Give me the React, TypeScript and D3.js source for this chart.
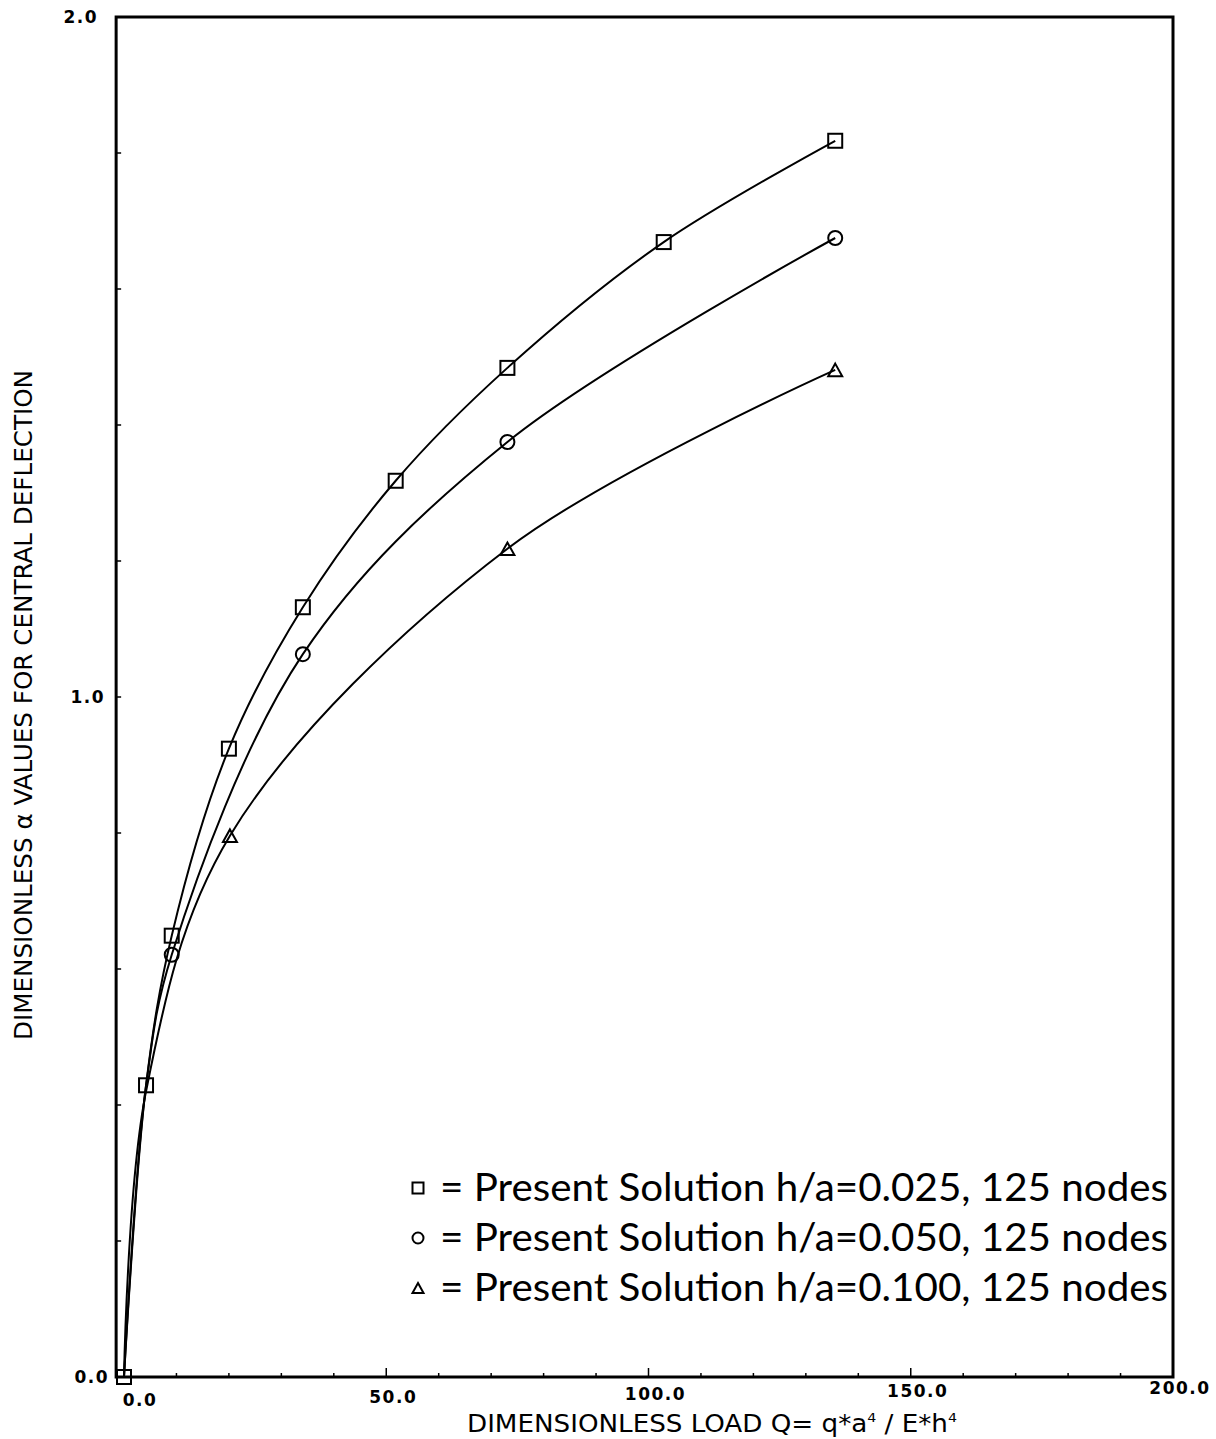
import { useEffect, useRef } from 'react';
import * as d3 from 'd3';

// Load values Q = q*a^4 / E*h^4 at which the solutions were computed
const Q_SQUARE = [0, 4.2, 9.1, 20.0, 34.1, 51.8, 73.1, 102.9, 135.6];
const A_SQUARE = [0, 0.429, 0.649, 0.924, 1.132, 1.318, 1.484, 1.669, 1.818];
const SHOW_SQUARE = [true, true, true, true, true, true, true, true, true];

const Q_CIRCLE = [0, 4.2, 9.1, 34.1, 73.1, 135.6];
const A_CIRCLE = [0, 0.428, 0.621, 1.063, 1.375, 1.675];
const SHOW_CIRCLE = [false, false, true, true, true, true];

const Q_TRIANGLE = [0, 4.2, 20.2, 73.1, 135.6];
const A_TRIANGLE = [0, 0.42, 0.796, 1.218, 1.481];
const SHOW_TRIANGLE = [false, false, true, true, true];

const LEGEND_LABELS = [
  '= Present Solution h/a=0.025, 125 nodes',
  '= Present Solution h/a=0.050, 125 nodes',
  '= Present Solution h/a=0.100, 125 nodes',
];

const X_TICKS = [0, 50, 100, 150, 200];
const Y_TICKS = [0, 1, 2];

const W = 1216;
const H = 1439;
const TICK_FONT = '"DejaVu Sans", sans-serif';
const LABEL_FONT = '"DejaVu Sans Condensed", "DejaVu Sans", sans-serif';
const LEGEND_FONT = 'Lato, "Noto Sans", sans-serif';

export default function App() {
  const svgRef = useRef<SVGSVGElement>(null);

  useEffect(() => {
    if (!svgRef.current) return;
    const svg = d3.select(svgRef.current);
    svg.selectAll('*').remove();

    const x = d3.scaleLinear().domain([0, 200]).range([124, 1173]);
    const y = d3.scaleLinear().domain([0, 2]).range([1377, 17]);
    const frameLeft = x(-1.5);

    // frame
    svg
      .append('rect')
      .attr('x', frameLeft)
      .attr('y', y(2))
      .attr('width', x(200) - frameLeft)
      .attr('height', y(0) - y(2))
      .attr('fill', 'none')
      .attr('stroke', '#000')
      .attr('stroke-width', 3);

    // x ticks: minor every 10, major every 50
    d3.range(10, 200, 10).forEach(v => {
      const major = v % 50 === 0;
      svg
        .append('line')
        .attr('x1', x(v))
        .attr('x2', x(v))
        .attr('y1', y(0))
        .attr('y2', y(0) - (major ? 9 : 4))
        .attr('stroke', '#000')
        .attr('stroke-width', 1.5);
    });

    // y ticks every 0.2
    d3.range(0.2, 2, 0.2).forEach(v => {
      svg
        .append('line')
        .attr('x1', frameLeft)
        .attr('x2', frameLeft + 5)
        .attr('y1', y(v))
        .attr('y2', y(v))
        .attr('stroke', '#000')
        .attr('stroke-width', 1.5);
    });

    // tick labels
    svg
      .selectAll('.xl')
      .data(X_TICKS)
      .enter()
      .append('text')
      .attr('x', (d: number) => x(d) + (d === 0 ? 16 : 7))
      .attr('y', (d: number) => 1406 - d * 0.06)
      .attr('text-anchor', 'middle')
      .attr('font-family', TICK_FONT)
      .attr('font-weight', 'bold')
      .attr('font-size', '17px')
      .attr('letter-spacing', '1.5px')
      .text((d: number) => d.toFixed(1));

    svg
      .selectAll('.yl')
      .data(Y_TICKS)
      .enter()
      .append('text')
      .attr('x', (d: number) => (d === 2 ? 98 : d === 1 ? 105 : 109))
      .attr('y', (d: number) => y(d))
      .attr('dy', '0.36em')
      .attr('text-anchor', 'end')
      .attr('font-family', TICK_FONT)
      .attr('font-weight', 'bold')
      .attr('font-size', '17px')
      .attr('letter-spacing', '1.5px')
      .text((d: number) => d.toFixed(1));

    // axis titles
    const xt = svg
      .append('text')
      .attr('x', 712)
      .attr('y', 1432)
      .attr('text-anchor', 'middle')
      .attr('font-family', LABEL_FONT)
      .attr('font-size', '24px')
      .attr('textLength', 490)
      .attr('lengthAdjust', 'spacingAndGlyphs');
    xt.append('tspan').text('DIMENSIONLESS LOAD Q= q*a');
    xt.append('tspan').attr('dy', -10).attr('font-size', '13px').text('4');
    xt.append('tspan').attr('dy', 10).text(' / E*h');
    xt.append('tspan').attr('dy', -10).attr('font-size', '13px').text('4');

    svg
      .append('text')
      .attr('transform', 'translate(32, 705) rotate(-90)')
      .attr('text-anchor', 'middle')
      .attr('font-family', LABEL_FONT)
      .attr('font-size', '24px')
      .attr('textLength', 670)
      .attr('lengthAdjust', 'spacingAndGlyphs')
      .text('DIMENSIONLESS α VALUES FOR CENTRAL DEFLECTION');

    const line = d3
      .line<[number, number]>()
      .x(d => x(d[0]))
      .y(d => y(d[1]))
      .curve(d3.curveCatmullRom.alpha(0.5));

    const series = [
      { q: Q_SQUARE, a: A_SQUARE, show: SHOW_SQUARE, shape: 'square' },
      { q: Q_CIRCLE, a: A_CIRCLE, show: SHOW_CIRCLE, shape: 'circle' },
      { q: Q_TRIANGLE, a: A_TRIANGLE, show: SHOW_TRIANGLE, shape: 'triangle' },
    ];

    const drawMarker = (g: any, shape: string, cx: number, cy: number, s: number) => {
      if (shape === 'square') {
        g.append('rect')
          .attr('x', cx - s / 2)
          .attr('y', cy - s / 2)
          .attr('width', s)
          .attr('height', s)
          .attr('fill', 'none')
          .attr('stroke', '#000')
          .attr('stroke-width', 2);
      } else if (shape === 'circle') {
        g.append('circle')
          .attr('cx', cx)
          .attr('cy', cy)
          .attr('r', s / 2)
          .attr('fill', 'none')
          .attr('stroke', '#000')
          .attr('stroke-width', 2);
      } else {
        const h = s * 0.9;
        g.append('path')
          .attr('d', `M${cx},${cy - h / 2}L${cx + s / 2},${cy + h / 2}L${cx - s / 2},${cy + h / 2}Z`)
          .attr('fill', 'none')
          .attr('stroke', '#000')
          .attr('stroke-width', 2);
      }
    };

    series.forEach(s => {
      const pts = s.q.map((q, i) => [q, s.a[i]] as [number, number]);
      svg
        .append('path')
        .attr('d', line(pts))
        .attr('fill', 'none')
        .attr('stroke', '#000')
        .attr('stroke-width', 2);
      pts.forEach((p, i) => {
        if (s.show[i]) drawMarker(svg, s.shape, x(p[0]), y(p[1]), 14);
      });
    });

    // legend
    const shapes = ['square', 'circle', 'triangle'];
    LEGEND_LABELS.forEach((label, i) => {
      const cy = 1188 + i * 50;
      drawMarker(svg, shapes[i], 418, cy, 11);
      svg
        .append('text')
        .attr('x', 440)
        .attr('y', cy + 13)
        .attr('font-family', LEGEND_FONT)
        .attr('font-size', '38px')
        .attr('textLength', 728)
        .attr('lengthAdjust', 'spacingAndGlyphs')
        .text(label);
    });
  }, []);

  return (
    <svg
      ref={svgRef}
      width={W}
      height={H}
      style={{ position: 'absolute', left: 0, top: 0, background: '#fff' }}
    />
  );
}
